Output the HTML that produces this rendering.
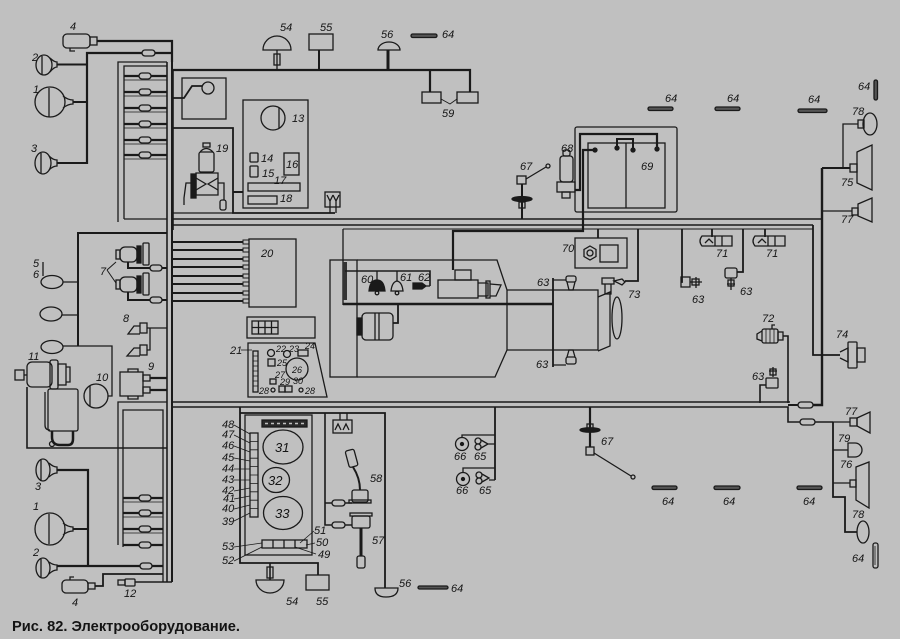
<!DOCTYPE html>
<html><head><meta charset="utf-8">
<style>
html,body{margin:0;padding:0;background:#c0c0c0;}
svg{display:block}
text{font-family:"Liberation Sans",sans-serif;font-style:italic;font-size:11px;fill:#141414;}
text.s{font-size:9px}
text.b{font-size:13px}
text.t{font-style:normal;font-weight:bold;font-size:15px;}
</style></head><body>
<svg width="900" height="639" viewBox="0 0 900 639" xmlns="http://www.w3.org/2000/svg">
<rect width="900" height="639" fill="#c0c0c0"/>
<g fill="none" stroke="#1a1a1a" stroke-width="1.3">

<!-- ===== TOP LEFT LAMPS ===== -->
<rect x="63" y="34" width="27" height="14" rx="4"/>
<rect x="90" y="37" width="7" height="8"/>
<path d="M70 48 v3 h5"/>
<path d="M97 41 H172 V62" stroke-width="2.2"/>
<path d="M87 164 V53 H172" stroke-width="2.2"/>
<rect x="142" y="50" width="13" height="6" rx="3" fill="#c0c0c0"/>
<ellipse cx="44" cy="65" rx="8" ry="10"/>
<path d="M42 56 V74"/>
<path d="M50 58 Q54 62 57 62 V67 Q54 67 50 72"/>
<path d="M57 64.5 H87" stroke-width="2"/>
<ellipse cx="50" cy="102" rx="15" ry="15"/>
<path d="M49 88 V117"/>
<path d="M63 96 Q68 100 73 100 V104 Q68 104 63 108"/>
<path d="M73 102 H87" stroke-width="2"/>
<ellipse cx="43" cy="163" rx="8" ry="11"/>
<path d="M41 153 V173"/>
<path d="M49 156 Q53 160 57 160 V166 Q53 166 49 170"/>
<path d="M57 163 H87" stroke-width="2"/>

<!-- top-left fuse box -->
<path d="M118 222 V62 H167"/>
<path d="M124 219 V66 H167 M124 219 H167"/>
<g stroke-width="2.2">
<path d="M124 76 H167 M124 92 H167 M124 108 H167 M124 124 H167 M124 140 H167 M124 155 H167"/>
</g>
<g fill="#c0c0c0">
<rect x="139" y="73" width="12" height="6" rx="3"/>
<rect x="139" y="89" width="12" height="6" rx="3"/>
<rect x="139" y="105" width="12" height="6" rx="3"/>
<rect x="139" y="121" width="12" height="6" rx="3"/>
<rect x="139" y="137" width="12" height="6" rx="3"/>
<rect x="139" y="152" width="12" height="6" rx="3"/>
</g>
<path d="M124 80 H167 M124 96 H167 M124 112 H167 M124 128 H167 M124 144 H167 M124 159 H167" stroke-width="0.8"/>

<!-- main vertical bus -->
<path d="M167 62 V582" stroke-width="1.6"/>
<path d="M172 62 V582" stroke-width="2"/>

<!-- ===== TOP ROW ===== -->
<path d="M172 70 H470 V92" stroke-width="2.2"/>
<path d="M430 71 V92" stroke-width="2.2"/>
<path d="M263 50 A14 14 0 0 1 291 50 Z"/>
<path d="M277 50 V70"/>
<rect x="274" y="54" width="6" height="11"/>
<rect x="309" y="34" width="24" height="16"/>
<path d="M319 50 V70" stroke-width="2"/>
<path d="M378 50 A11 8 0 0 1 400 50 Z"/>
<path d="M388 50 V71" stroke-width="3"/>
<rect x="411" y="34" width="26" height="3.5" rx="1.7" fill="#555"/>
<rect x="422" y="92" width="19" height="11"/>
<rect x="457" y="92" width="21" height="11"/>
<path d="M441 99 L450 104 L457 99" stroke-width="0.9"/>

<!-- switch box & frames -->
<rect x="182" y="78" width="44" height="41"/>
<circle cx="208" cy="88" r="6"/>
<path d="M173 98 H184 L192 86 H202" stroke-width="1.8"/>
<path d="M173 70 V230" stroke-width="1.6"/>
<path d="M173 128 H233 V213 H335" stroke-width="1.8"/>
<path d="M173 213 H233"/>
<rect x="243" y="100" width="65" height="108"/>
<circle cx="273" cy="118" r="12"/>
<path d="M279 108 V128"/>
<rect x="250" y="153" width="8" height="9" rx="1"/>
<rect x="250" y="166" width="8" height="11" rx="1"/>
<rect x="284" y="153" width="15" height="22"/>
<rect x="248" y="183" width="52" height="8"/>
<rect x="248" y="196" width="29" height="8"/>
<path d="M233 192 H243" stroke-width="2"/>
<rect x="325" y="192" width="15" height="15"/>
<path d="M327 195 L330 201 L333 195 M333 195 L336 201 L339 195 M330 201 V213 M336 201 V213"/>
<!-- pump 19 -->
<rect x="199" y="152" width="15" height="20" rx="2"/>
<path d="M200 152 Q206 145 213 152"/>
<rect x="203" y="143" width="7" height="4"/>
<path d="M196 173 H218 V195 H196 Z"/>
<path d="M196 178 L206 184 L196 190 M218 178 L208 184 L218 190"/>
<rect x="191" y="174" width="5" height="24" fill="#1a1a1a"/>
<path d="M191 183 H186 L184 198 V205"/>
<path d="M218 183 H224 V200"/>
<rect x="220" y="200" width="6" height="10" rx="2"/>

<!-- ===== MAIN TOP BUS ===== -->
<path d="M172 219 H822" stroke-width="1.6"/>
<path d="M172 225 H813" stroke-width="1.6"/>
<path d="M343 229 H813" stroke-width="1"/>
<path d="M813 225 V355 H840" stroke-width="1.8"/>
<path d="M822 168 V405 H813" stroke-width="2.4"/>
<path d="M798 405 H788" stroke-width="2"/>
<rect x="798" y="402" width="15" height="6" rx="3" fill="#c0c0c0"/>

<!-- battery, relay, 67 top -->
<rect x="575" y="127" width="102" height="85" rx="2"/>
<rect x="588" y="143" width="77" height="65"/>
<path d="M626 143 V208"/>
<circle cx="595" cy="150" r="2" fill="#1a1a1a"/>
<circle cx="617" cy="148" r="2" fill="#1a1a1a"/>
<circle cx="633" cy="150" r="2" fill="#1a1a1a"/>
<circle cx="657" cy="149" r="2" fill="#1a1a1a"/>
<path d="M617 148 V139 H633 V150" stroke-width="2"/>
<path d="M657 149 V134 H580 V190 H575" stroke-width="2.2"/>
<path d="M595 150 H583 V231 H453 V270" stroke-width="2.2"/>
<rect x="560" y="156" width="13" height="26" rx="3"/>
<rect x="563" y="150" width="7" height="6" rx="2"/>
<rect x="557" y="182" width="18" height="10"/>
<rect x="562" y="192" width="8" height="6"/>
<path d="M522 184 V219" stroke-width="2"/>
<ellipse cx="522" cy="199" rx="10" ry="2.5" fill="#1a1a1a"/>
<rect x="519" y="202" width="6" height="6"/>
<rect x="517" y="176" width="9" height="8"/>
<path d="M526 179 L546 167"/>
<circle cx="548" cy="166" r="2"/>

<!-- top right markers & lamps -->
<rect x="648" y="107" width="25" height="3.5" rx="1.7" fill="#555"/>
<rect x="715" y="107" width="25" height="3.5" rx="1.7" fill="#555"/>
<rect x="798" y="109" width="29" height="3.5" rx="1.7" fill="#555"/>
<rect x="874" y="80" width="3.5" height="20" rx="1.7" fill="#555"/>
<ellipse cx="870" cy="124" rx="7" ry="11"/>
<rect x="858" y="120" width="6" height="8"/>
<path d="M858 124 H843 V168"/>
<path d="M822 168 H850" stroke-width="2"/>
<rect x="850" y="164" width="7" height="8"/>
<path d="M857 152 L872 145 V190 L857 183 Z"/>
<path d="M822 211 H852"/>
<rect x="852" y="208" width="6" height="7"/>
<path d="M858 204 L872 198 V222 L858 216 Z"/>

<!-- ===== LEFT MIDDLE ===== -->
<path d="M78 346 V233 H167" stroke-width="2"/>
<ellipse cx="52" cy="282" rx="11" ry="6.5"/>
<ellipse cx="51" cy="314" rx="11" ry="7"/>
<ellipse cx="52" cy="347" rx="11" ry="6.5"/>
<path d="M63 282 H78 M62 315 H78"/>
<path d="M63 346 H112 V396 H108"/>
<path d="M43 262 V276"/>
<!-- 7 -->
<rect x="120" y="247" width="17" height="15" rx="5"/>
<rect x="116" y="250" width="4" height="9"/>
<rect x="137" y="246" width="4" height="17" fill="#1a1a1a"/>
<rect x="143" y="243" width="6" height="22" rx="1"/>
<path d="M128 262 V268 H167" stroke-width="2"/>
<rect x="150" y="265" width="12" height="6" rx="3" fill="#c0c0c0"/>
<rect x="120" y="277" width="17" height="15" rx="5"/>
<rect x="116" y="280" width="4" height="9"/>
<rect x="137" y="276" width="4" height="17" fill="#1a1a1a"/>
<rect x="143" y="273" width="6" height="22" rx="1"/>
<path d="M128 292 V300 H167" stroke-width="2"/>
<rect x="150" y="297" width="12" height="6" rx="3" fill="#c0c0c0"/>
<path d="M107 270 L116 262 M107 270 L116 283" stroke-width="1"/>
<!-- 8 -->
<rect x="140" y="323" width="7" height="10"/>
<path d="M140 326 H134 L128 334 H140"/>
<rect x="140" y="345" width="7" height="10"/>
<path d="M140 348 H134 L127 356 H140"/>
<path d="M147 328 H167 M147 328 H150 V350 H147"/>
<!-- 9 -->
<rect x="120" y="372" width="23" height="24"/>
<path d="M128 372 V369 H138 V372 M128 396 V399 H138 V396"/>
<rect x="143" y="375" width="7" height="6"/>
<rect x="143" y="387" width="7" height="6"/>
<path d="M150 378 H167 M150 390 H167" stroke-width="2.2"/>
<!-- 11 -->
<rect x="15" y="370" width="9" height="10"/>
<path d="M24 375 h3"/>
<rect x="27" y="362" width="25" height="25" rx="5"/>
<rect x="50" y="360" width="8" height="29" rx="2"/>
<rect x="58" y="364" width="8" height="21"/>
<path d="M66 367 h4 v15 h-4"/>
<rect x="48" y="389" width="30" height="42" rx="2"/>
<path d="M45 392 V425 Q45 430 50 430"/>
<path d="M27 387 V448 H167" stroke-width="1.6"/>
<path d="M52 431 v6 q0 8 8 8 h8 q5 0 5 -6 v-8" stroke-width="2.5"/>
<circle cx="52" cy="444" r="2.5"/>
<!-- 10 -->
<circle cx="96" cy="396" r="12"/>
<path d="M90 386 V406"/>

<!-- 20 fuses -->
<g stroke-width="2">
<path d="M172 242 H243 M172 250 H243 M172 259 H243 M172 267 H243 M172 276 H243 M172 284 H243 M172 293 H243 M172 301 H243"/>
</g>
<g stroke-width="1">
<rect x="243" y="240" width="6" height="4"/>
<rect x="243" y="248" width="6" height="4"/>
<rect x="243" y="257" width="6" height="4"/>
<rect x="243" y="265" width="6" height="4"/>
<rect x="243" y="274" width="6" height="4"/>
<rect x="243" y="282" width="6" height="4"/>
<rect x="243" y="291" width="6" height="4"/>
<rect x="243" y="299" width="6" height="4"/>
</g>
<rect x="249" y="239" width="47" height="68"/>
<rect x="247" y="317" width="68" height="21"/>
<rect x="252" y="321" width="26" height="13"/>
<path d="M258.5 321 V334 M265 321 V334 M271.5 321 V334 M252 327.5 H278"/>
<!-- 21 panel -->
<path d="M248 343 H315 L327 397 H248 Z"/>
<rect x="253" y="351" width="5" height="41"/>
<path d="M253 356 h5 M253 361 h5 M253 366 h5 M253 371 h5 M253 376 h5 M253 381 h5 M253 386 h5" stroke-width="0.8"/>
<path d="M241 350 H252" stroke-width="0.8"/>
<circle cx="271" cy="353" r="3.5"/>
<circle cx="287" cy="354" r="3.5"/>
<rect x="298" y="350" width="10" height="6"/>
<rect x="268" y="359" width="7" height="7"/>
<circle cx="297" cy="369" r="11"/>
<rect x="270" y="379" width="6" height="5"/>
<circle cx="273" cy="390" r="2"/>
<rect x="279" y="386" width="6" height="6"/>
<rect x="285" y="386" width="7" height="6"/>
<circle cx="301" cy="390" r="2"/>

<!-- ===== ENGINE ===== -->
<rect x="330" y="260" width="27" height="117"/>
<path d="M343 229 V305"/>
<path d="M345 262 V300" stroke-width="4" stroke="#333"/>
<path d="M357 260 H497 L507 290 H553 M507 290 V350 H553 M507 350 L495 377 H357"/>
<rect x="553" y="290" width="45" height="60"/>
<path d="M598 297 L610 292 V346 L598 351"/>
<ellipse cx="617" cy="318" rx="5" ry="21"/>
<path d="M343 304 H553" stroke-width="2.6"/>
<path d="M345 271 H430 V286" stroke-width="1.6"/>
<path d="M377 271 V280 M397 271 V281"/>
<path d="M369 291 Q370 280 377 280 Q384 280 385 291 Z" fill="#1a1a1a"/>
<circle cx="377" cy="293" r="1.8"/>
<path d="M391 291 Q392 282 397 281 Q402 282 403 291 Z"/>
<circle cx="397" cy="293" r="1.8"/>
<path d="M413 283 H422 L426 286 L422 289 H413 Z" fill="#1a1a1a"/>
<path d="M426 286 H430"/>
<!-- starter -->
<rect x="438" y="280" width="40" height="18"/>
<rect x="455" y="270" width="16" height="10"/>
<path d="M478 283 H488 V296 H478"/>
<rect x="486" y="281" width="4" height="17"/>
<path d="M490 284 L501 285 L496 296 H490"/>
<!-- generator -->
<rect x="362" y="313" width="31" height="27" rx="4"/>
<path d="M375 313 V340 M379 313 V340"/>
<rect x="357" y="318" width="5" height="17" fill="#1a1a1a"/>
<path d="M393 323 H398 V304" stroke-width="1.8"/>
<!-- 63 gearbox -->
<path d="M553 278 V367" stroke-width="1.8"/>
<path d="M553 280 H566 M553 365 H566"/>
<rect x="566" y="276" width="10" height="6" rx="2"/>
<path d="M567 282 L569 290 H573 L575 282"/>
<rect x="566" y="357" width="10" height="7" rx="2"/>
<path d="M567 357 L569 350 H573 L575 357"/>
<!-- 73 -->
<rect x="602" y="278" width="12" height="6"/>
<path d="M605 284 V294 H611 V284"/>
<path d="M614 281 L622 279 L625 282 L622 285 Z"/>
<path d="M625 281 H638 V229" stroke-width="1.8"/>
<!-- 70 -->
<rect x="575" y="238" width="52" height="30"/>
<path d="M590 246 L596 249.5 V256.5 L590 260 L584 256.5 V249.5 Z"/>
<circle cx="590" cy="253" r="3"/>
<rect x="600" y="245" width="18" height="17"/>
<path d="M598 229 V238" stroke-width="1.8"/>

<!-- ===== RIGHT MIDDLE ===== -->
<path d="M702 236 H732 V246 H702 Q698 241 702 236 Z"/>
<path d="M715 236 V246 M722 236 V246 M705 243 l4 -4 l4 4"/>
<path d="M712 229 V237" stroke-width="1.8"/>
<path d="M755 236 H785 V246 H755 Q751 241 755 236 Z"/>
<path d="M768 236 V246 M775 236 V246 M758 243 l4 -4 l4 4"/>
<path d="M765 229 V237" stroke-width="1.8"/>
<path d="M682 229 V282 H681" stroke-width="1.8"/>
<rect x="681" y="277" width="9" height="10"/>
<path d="M690 282 H702 M696 277 V288"/>
<rect x="692" y="279" width="7" height="6"/>
<path d="M743 229 V272 H737" stroke-width="1.8"/>
<rect x="725" y="268" width="12" height="10" rx="2"/>
<path d="M731 278 V290 M727 284 H735"/>
<rect x="728" y="280" width="6" height="6"/>
<rect x="762" y="329" width="16" height="14" rx="2"/>
<path d="M766 329 V343 M770 329 V343 M774 329 V343" stroke-width="0.8"/>
<path d="M762 331 L757 334 V339 L762 341"/>
<rect x="778" y="332" width="5" height="8"/>
<path d="M783 336 H788 V403" stroke-width="1.6"/>
<path d="M772 329 V325 h3"/>
<path d="M773 367 V377 M769 371 H777"/>
<rect x="770" y="369" width="6" height="6"/>
<rect x="766" y="378" width="12" height="10" rx="1"/>
<path d="M760 403 V385 H766" stroke-width="1.6"/>
<path d="M840 352 L848 348 V362 L840 358"/>
<rect x="848" y="342" width="9" height="26" rx="1"/>
<rect x="857" y="348" width="8" height="14"/>

<!-- ===== BOTTOM BUS ===== -->
<path d="M172 402 H790" stroke-width="1.6"/>
<path d="M172 407 H788 V422 H833" stroke-width="1.6"/>
<rect x="800" y="419" width="15" height="6" rx="3" fill="#c0c0c0"/>
<path d="M833 422 V497 H845 V532 H857" stroke-width="1.8"/>
<path d="M833 422 H850"/>
<rect x="850" y="418" width="7" height="8"/>
<path d="M857 418 L870 412 V433 L857 426 Z"/>
<path d="M833 450 H848"/>
<path d="M848 443 H855 A7 7 0 0 1 855 457 H848 Z"/>
<path d="M833 483 H850"/>
<rect x="850" y="480" width="6" height="7"/>
<path d="M856 467 L869 462 V508 L856 500 Z"/>
<ellipse cx="863" cy="532" rx="6" ry="11"/>
<rect x="873" y="543" width="5" height="25" rx="2"/>
<path d="M875 546 V565" stroke-width="0.8"/>

<!-- 66/65 -->
<path d="M495 407 V480" stroke-width="1.8"/>
<path d="M462 437 V435 H495"/>
<circle cx="462" cy="444" r="6.5"/>
<circle cx="462" cy="444" r="1.5" fill="#1a1a1a"/>
<circle cx="478" cy="441" r="3"/>
<circle cx="478" cy="447" r="3"/>
<path d="M481 440 L488 444 L481 448 M488 444 H495"/>
<path d="M463 472 V468 H495"/>
<circle cx="463" cy="479" r="6.5"/>
<circle cx="463" cy="479" r="1.5" fill="#1a1a1a"/>
<circle cx="479" cy="475" r="3"/>
<circle cx="479" cy="481" r="3"/>
<path d="M482 474 L489 478 L482 482 M489 480 H495"/>
<!-- 67 bottom -->
<path d="M590 407 V450" stroke-width="2.2"/>
<ellipse cx="590" cy="430" rx="10" ry="2.2" fill="#1a1a1a"/>
<rect x="587" y="424" width="6" height="5"/>
<rect x="586" y="447" width="8" height="8" fill="#c0c0c0"/>
<path d="M594 453 L631 476"/>
<circle cx="633" cy="477" r="2"/>
<rect x="652" y="486" width="25" height="3.5" rx="1.7" fill="#555"/>
<rect x="714" y="486" width="26" height="3.5" rx="1.7" fill="#555"/>
<rect x="797" y="486" width="25" height="3.5" rx="1.7" fill="#555"/>

<!-- ===== BOTTOM LEFT ===== -->
<path d="M118 545 V402 H167"/>
<path d="M123 547 V410 H163 V582"/>
<g stroke-width="2.2">
<path d="M123 498 H163 M123 513 H163 M123 529 H163 M123 545 H163"/>
</g>
<path d="M123 502 H163 M123 517 H163 M123 533 H163" stroke-width="0.8"/>
<g fill="#c0c0c0">
<rect x="139" y="495" width="12" height="6" rx="3"/>
<rect x="139" y="510" width="12" height="6" rx="3"/>
<rect x="139" y="526" width="12" height="6" rx="3"/>
<rect x="139" y="542" width="12" height="6" rx="3"/>
</g>
<ellipse cx="43" cy="470" rx="7" ry="11"/>
<path d="M41 460 V480"/>
<path d="M49 463 Q53 467 57 467 V473 Q53 473 49 477"/>
<path d="M57 470 H88 V566" stroke-width="2.2"/>
<ellipse cx="50" cy="529" rx="15" ry="16"/>
<path d="M49 514 V544"/>
<path d="M63 523 Q68 527 73 527 V531 Q68 531 63 535"/>
<path d="M73 529 H88" stroke-width="2"/>
<ellipse cx="43" cy="568" rx="7" ry="10"/>
<path d="M41 559 V577"/>
<path d="M49 562 Q53 565 57 565 V570 Q53 570 49 574"/>
<path d="M57 566 H163" stroke-width="2.2"/>
<rect x="140" y="563" width="12" height="6" rx="3" fill="#c0c0c0"/>
<rect x="62" y="580" width="26" height="13" rx="4"/>
<rect x="88" y="583" width="7" height="6"/>
<path d="M70 580 v-3 h4"/>
<path d="M95 586 H103 V574 H163" stroke-width="1.8"/>
<rect x="118" y="580" width="7" height="5"/>
<rect x="125" y="579" width="10" height="7" rx="1"/>
<path d="M135 582 H172" stroke-width="1.6"/>

<!-- ===== BOTTOM PANEL ===== -->
<path d="M240 407 V563 H318 V575" stroke-width="1.8"/>
<path d="M240 413 H385 V588" stroke-width="1.8"/>
<rect x="245" y="415" width="67" height="140"/>
<ellipse cx="283" cy="447" rx="20" ry="17"/>
<ellipse cx="276" cy="480" rx="13.5" ry="12.5"/>
<ellipse cx="283" cy="513" rx="19.5" ry="16.5"/>
<rect x="250" y="433" width="8" height="84"/>
<path d="M250 441.4 h8 M250 449.8 h8 M250 458.2 h8 M250 466.6 h8 M250 475 h8 M250 483.4 h8 M250 491.8 h8 M250 500.2 h8 M250 508.6 h8" stroke-width="0.8"/>
<rect x="262" y="420" width="45" height="7" fill="#2a2a2a"/>
<path d="M265 423.5 h3 M271 423.5 h3 M277 423.5 h3 M283 423.5 h3 M289 423.5 h3 M295 423.5 h3 M301 423.5 h3" stroke="#c0c0c0" stroke-width="1.5"/>
<rect x="262" y="540" width="45" height="8"/>
<path d="M273 540 V548 M284 540 V548 M295 540 V548"/>
<g stroke-width="0.8">
<path d="M234 425 L250 434 M234 435 L250 443 M234 446 L250 452 M234 458 L250 461 M234 469 H250 M234 480 H250 M234 491 L250 488 M234 499 L250 496 M234 509 L250 505 M234 521 L250 513 M234 547 L262 543 M234 561 L262 547 M314 531 L300 543 M315 543 L306 545 M316 554 L295 547"/>
</g>
<path d="M270 563 V580" stroke-width="1.6"/>
<rect x="267" y="567" width="6" height="11"/>
<path d="M256 580 H284 A14 13 0 0 1 256 580 Z"/>
<rect x="306" y="575" width="23" height="15"/>
<path d="M375 588 H398 Q398 597 386 597 Q375 597 375 588 Z"/>
<rect x="418" y="586" width="30" height="3" rx="1.5" fill="#555"/>
<rect x="333" y="420" width="19" height="13"/>
<path d="M335 430 L338 424 L341 430 M343 430 L346 424 L349 430 M340 413 V420 M347 413 V420"/>
<path d="M325 413 V525 H352 M325 503 H352" stroke-width="1.6"/>
<rect x="332" y="500" width="13" height="6" rx="3" fill="#c0c0c0"/>
<rect x="332" y="522" width="13" height="6" rx="3" fill="#c0c0c0"/>
<rect x="352" y="490" width="16" height="12" rx="2"/>
<rect x="349" y="500" width="22" height="3"/>
<path d="M360 490 Q360 478 353 467" stroke-width="2"/>
<rect x="347" y="450" width="9" height="17" rx="2" transform="rotate(-15 351 458)"/>
<rect x="350" y="513" width="22" height="3"/>
<rect x="352" y="516" width="18" height="12" rx="2"/>
<path d="M361 528 V556" stroke-width="3"/>
<rect x="357" y="556" width="8" height="12" rx="2"/>
</g>

<!-- ===== LABELS ===== -->
<g>
<text x="70" y="30">4</text><text x="32" y="61">2</text><text x="33" y="93">1</text><text x="31" y="152">3</text>
<text x="280" y="31">54</text><text x="320" y="31">55</text><text x="381" y="38">56</text><text x="442" y="38">64</text><text x="442" y="117">59</text>
<text x="292" y="122">13</text><text x="261" y="162">14</text><text x="262" y="177">15</text><text x="286" y="168">16</text><text x="274" y="184">17</text><text x="280" y="202">18</text><text x="216" y="152">19</text>
<text x="665" y="102">64</text><text x="727" y="102">64</text><text x="808" y="103">64</text><text x="858" y="90">64</text>
<text x="852" y="115">78</text><text x="841" y="186">75</text><text x="841" y="223">77</text>
<text x="520" y="170">67</text><text x="561" y="152">68</text><text x="641" y="170">69</text>
<text x="33" y="267">5</text><text x="33" y="278">6</text><text x="100" y="275">7</text><text x="123" y="322">8</text><text x="148" y="370">9</text><text x="96" y="381">10</text><text x="28" y="360">11</text>
<text x="261" y="257">20</text><text x="230" y="354">21</text>
<text class="s" x="276" y="352">22</text><text class="s" x="289" y="352">23</text><text class="s" x="305" y="349">24</text><text class="s" x="277" y="366">25</text><text class="s" x="292" y="373">26</text><text class="s" x="275" y="378">27</text><text class="s" x="280" y="385">29</text><text class="s" x="293" y="384">30</text><text class="s" x="259" y="394">28</text><text class="s" x="305" y="394">28</text>
<text x="361" y="283">60</text><text x="400" y="281">61</text><text x="418" y="281">62</text>
<text x="537" y="286">63</text><text x="536" y="368">63</text><text x="562" y="252">70</text><text x="628" y="298">73</text>
<text x="716" y="257">71</text><text x="766" y="257">71</text><text x="692" y="303">63</text><text x="740" y="295">63</text><text x="762" y="322">72</text><text x="836" y="338">74</text><text x="752" y="380">63</text>
<text x="845" y="415">77</text><text x="838" y="442">79</text><text x="840" y="468">76</text><text x="852" y="518">78</text><text x="852" y="562">64</text>
<text x="662" y="505">64</text><text x="723" y="505">64</text><text x="803" y="505">64</text><text x="601" y="445">67</text>
<text x="454" y="460">66</text><text x="474" y="460">65</text><text x="456" y="494">66</text><text x="479" y="494">65</text>
<text x="35" y="490">3</text><text x="33" y="510">1</text><text x="33" y="556">2</text><text x="72" y="606">4</text><text x="124" y="597">12</text>
<text x="222" y="428">48</text><text x="222" y="438">47</text><text x="222" y="449">46</text><text x="222" y="461">45</text><text x="222" y="472">44</text><text x="222" y="483">43</text><text x="222" y="494">42</text><text x="223" y="502">41</text><text x="222" y="512">40</text><text x="222" y="525">39</text><text x="222" y="550">53</text><text x="222" y="564">52</text>
<text x="314" y="534">51</text><text x="316" y="546">50</text><text x="318" y="558">49</text>
<text class="b" x="275" y="452">31</text><text class="b" x="268" y="485">32</text><text class="b" x="275" y="518">33</text>
<text x="370" y="482">58</text><text x="372" y="544">57</text><text x="286" y="605">54</text><text x="316" y="605">55</text><text x="399" y="587">56</text><text x="451" y="592">64</text>
<text class="t" x="12" y="631" textLength="228" lengthAdjust="spacingAndGlyphs">Рис. 82. Электрооборудование.</text>
</g>
</svg>
</body></html>
